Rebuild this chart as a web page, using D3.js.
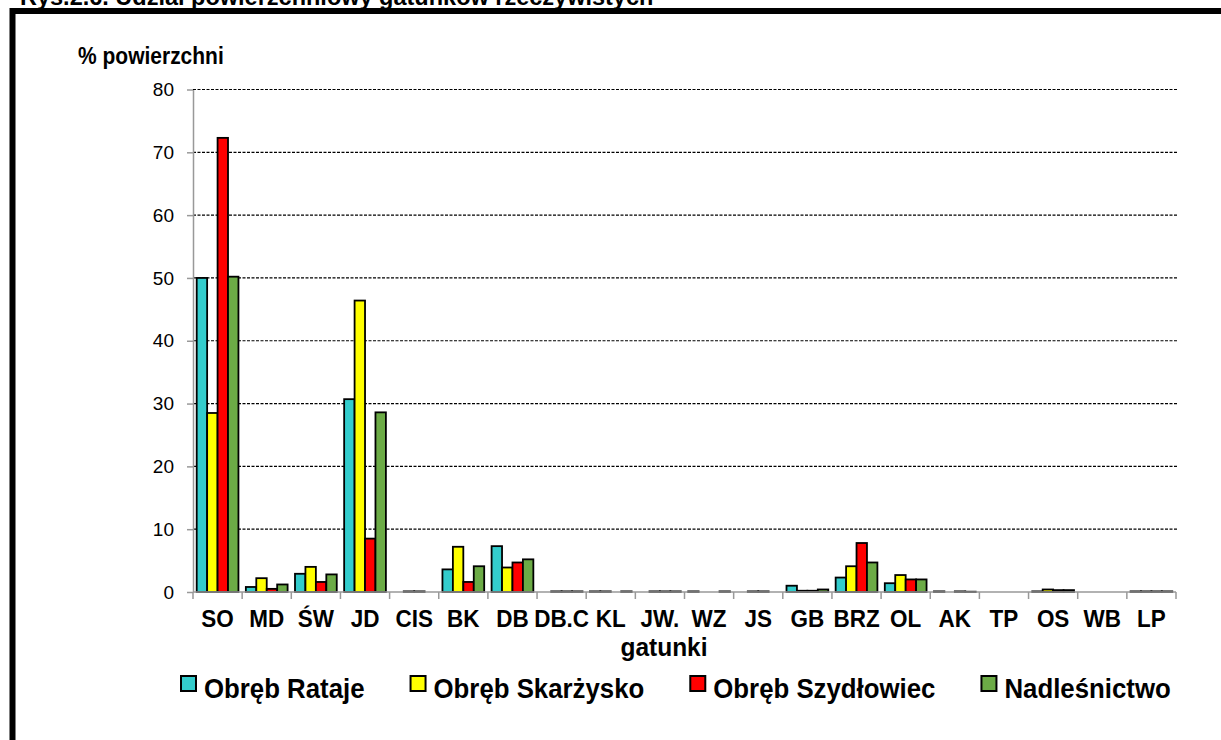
<!DOCTYPE html>
<html lang="pl">
<head>
  <meta charset="utf-8">
  <title>Udział powierzchniowy gatunków</title>
  <script type="text/javascript" src="https://cdnjs.cloudflare.com/ajax/libs/d3/7.8.5/d3.min.js"></script>
  <style>
    body { margin: 0; background: #fff; }
    svg { display: block; font-family: Arial, "Liberation Sans", sans-serif; }
  </style>
</head>
<body>
  <script type="text/javascript">
    var width = 1221;
    var height = 740;

    // data
    var categories = ["SO", "MD", "ŚW", "JD", "CIS", "BK", "DB", "DB.C", "KL", "JW.", "WZ", "JS", "GB", "BRZ", "OL", "AK", "TP", "OS", "WB", "LP"];
    var seriesNames = ["Obręb Rataje", "Obręb Skarżysko", "Obręb Szydłowiec", "Nadleśnictwo"];
    var rataje     = [50.0, 0.8, 2.9, 30.7, 0,   3.6, 7.3, 0,   0.1, 0,   0.1, 0,   1.0, 2.3, 1.4, 0.1,  0, 0.1, 0, 0.1];
    var skarzysko  = [28.5, 2.2, 4.0, 46.4, 0.1, 7.2, 3.9, 0.1, 0.1, 0.1, 0,   0.1, 0.2, 4.1, 2.7, 0,    0, 0.4, 0, 0.1];
    var szydlowiec = [72.3, 0.5, 1.6, 8.5,  0.1, 1.6, 4.7, 0.1, 0,   0.1, 0,   0.1, 0.2, 7.8, 2.0, 0.1,  0, 0.3, 0, 0.1];
    var nadl       = [50.2, 1.2, 2.8, 28.6, 0,   4.1, 5.2, 0.1, 0.1, 0.1, 0.1, 0,   0.4, 4.7, 2.0, 0.05, 0, 0.3, 0, 0.1];
    var yTicks = [0, 10, 20, 30, 40, 50, 60, 70, 80];
    var colors = ["#33CCCC", "#FFFF00", "#FF0000", "#6CAB46"];

    var series = [rataje, skarzysko, szydlowiec, nadl];

    var plotLeft = 193, plotRight = 1176, plotTop = 89.5, plotBottom = 592;

    var svg = d3.select("body").append("svg")
      .attr("width", width)
      .attr("height", height);

    // title, cut off at the top of the picture
    svg.append("text")
      .attr("x", 20).attr("y", 5)
      .attr("font-weight", "bold").attr("font-size", 23.5)
      .text("Rys.2.6. Udział powierzchniowy gatunków rzeczywistych");

    // thick frame
    svg.append("rect")
      .attr("x", 12.5).attr("y", 11)
      .attr("width", 1300).attr("height", 900)
      .attr("fill", "#fff").attr("stroke", "#000").attr("stroke-width", 6);

    var x0 = d3.scaleBand().domain(categories).range([plotLeft, plotRight]).padding(0);
    var x1 = d3.scaleBand().domain(d3.range(series.length))
      .range([3.7, x0.bandwidth() - 3.7]).padding(0);
    var y = d3.scaleLinear().domain([0, 80]).range([plotBottom, plotTop]);

    // gridlines
    svg.append("g").selectAll("line")
      .data(yTicks.filter(function (d) { return d > 0; }))
      .enter().append("line")
      .attr("x1", plotLeft).attr("x2", plotRight + 2)
      .attr("y1", function (d) { return y(d); })
      .attr("y2", function (d) { return y(d); })
      .attr("stroke", "#000").attr("stroke-width", 1.2)
      .attr("stroke-dasharray", "3,1.5");

    // y axis
    var yAxis = svg.append("g")
      .attr("transform", "translate(" + plotLeft + ",0)")
      .call(d3.axisLeft(y).tickValues(yTicks).tickSize(6).tickSizeOuter(0).tickPadding(13));
    yAxis.select(".domain").attr("stroke", "#999").attr("stroke-width", 1.5);
    yAxis.selectAll(".tick line").attr("stroke", "#999").attr("stroke-width", 1.5);
    yAxis.selectAll("text")
      .attr("font-size", 19).attr("fill", "#000")
      .attr("font-family", "Arial, 'Liberation Sans', sans-serif");

    // bars
    var groups = svg.append("g").selectAll("g")
      .data(categories)
      .enter().append("g")
      .attr("transform", function (d) { return "translate(" + x0(d) + ",0)"; });

    groups.selectAll("rect")
      .data(function (d, i) { return series.map(function (s, k) { return { k: k, v: s[i] }; }); })
      .enter().append("rect")
      .attr("x", function (d) { return x1(d.k); })
      .attr("width", x1.bandwidth())
      .attr("y", function (d) { return y(d.v); })
      .attr("height", function (d) { return y(0) - y(d.v); })
      .attr("fill", function (d) { return colors[d.k]; })
      .attr("stroke", "#000").attr("stroke-width", 1.8);

    // x axis line and ticks at band edges
    svg.append("line")
      .attr("x1", plotLeft).attr("x2", plotRight)
      .attr("y1", plotBottom).attr("y2", plotBottom)
      .attr("stroke", "#999").attr("stroke-width", 1.5);
    svg.append("g").selectAll("line")
      .data(categories.concat([null]))
      .enter().append("line")
      .attr("x1", function (d, i) { return plotLeft + i * x0.bandwidth(); })
      .attr("x2", function (d, i) { return plotLeft + i * x0.bandwidth(); })
      .attr("y1", plotBottom).attr("y2", plotBottom + 7)
      .attr("stroke", "#999").attr("stroke-width", 1.5);

    svg.append("g").selectAll("text")
      .data(categories)
      .enter().append("text")
      .attr("transform", function (d) {
        return "translate(" + (x0(d) + x0.bandwidth() / 2) + ",627) scale(1,1.05)";
      })
      .attr("text-anchor", "middle")
      .attr("font-weight", "bold").attr("font-size", 22.5)
      .text(function (d) { return d; });

    // axis titles
    svg.append("text")
      .attr("transform", "translate(78,64) scale(1,1.1)")
      .attr("font-weight", "bold").attr("font-size", 21)
      .text("% powierzchni");
    svg.append("text")
      .attr("transform", "translate(664,656) scale(1,1.05)")
      .attr("text-anchor", "middle")
      .attr("font-weight", "bold").attr("font-size", 24.5)
      .text("gatunki");

    // legend, items laid out one after another
    var legend = svg.append("g").selectAll("g")
      .data(seriesNames)
      .enter().append("g");
    legend.append("rect")
      .attr("x", 0).attr("y", 676)
      .attr("width", 15).attr("height", 15)
      .attr("fill", function (d, i) { return colors[i]; })
      .attr("stroke", "#000").attr("stroke-width", 2);
    legend.append("text")
      .attr("transform", "translate(23,698) scale(1,1.08)")
      .attr("font-weight", "bold").attr("font-size", 25.8)
      .text(function (d) { return d; });
    var lx = 181;
    legend.each(function () {
      var g = d3.select(this);
      g.attr("transform", "translate(" + lx + ",0)");
      lx += 23 + g.select("text").node().getComputedTextLength() + 46;
    });
  </script>
</body>
</html>
